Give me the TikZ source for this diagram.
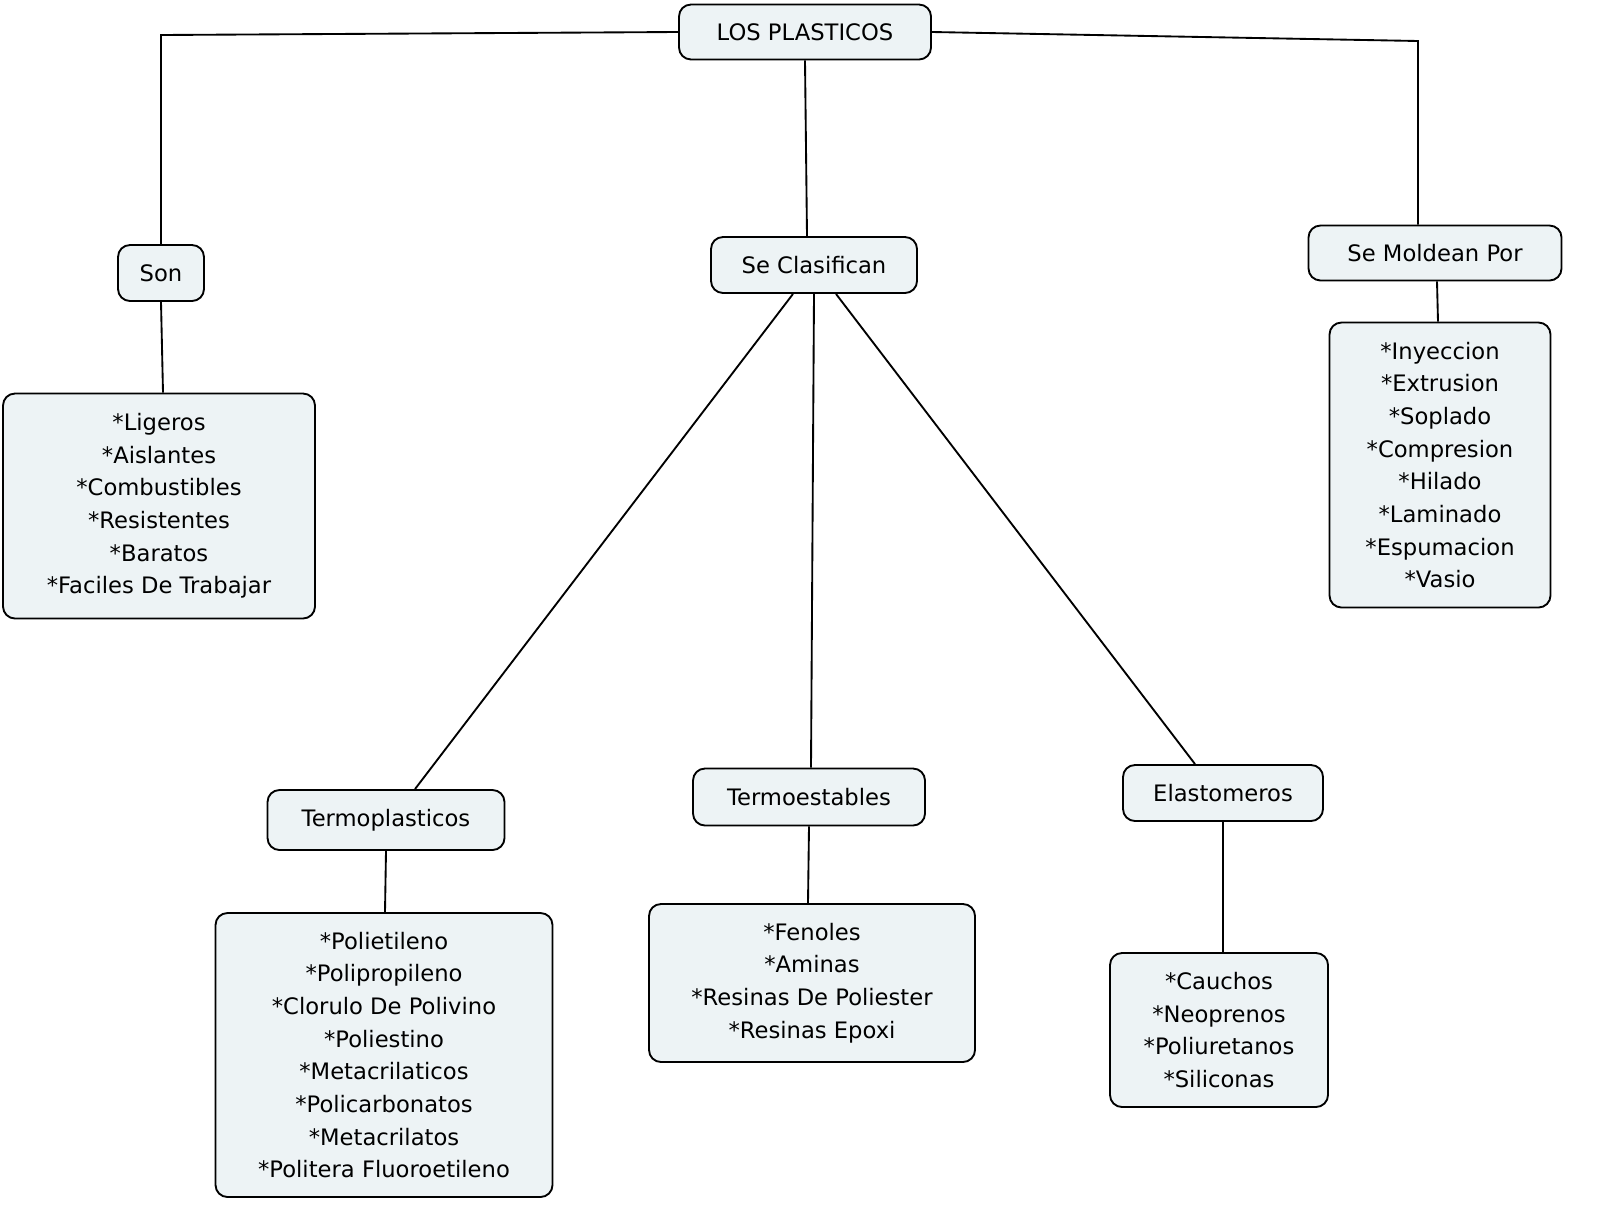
\documentclass[tikz,border=0pt]{standalone}
\usepackage{fontspec}
\setmainfont{DejaVu Sans}
\definecolor{boxfill}{HTML}{EDF3F5}
\begin{document}
\begin{tikzpicture}[x=0.75pt,y=-0.75pt,
  box/.style={draw=black,line width=1.4pt,fill=boxfill,rounded corners=9pt,inner sep=0pt,align=center,
    font=\fontsize{17}{24.5}\selectfont},
  con/.style={line width=1.4pt}]
\useasboundingbox (0,0) rectangle (1600,1225);
\node[box,minimum width=252*0.75pt,minimum height=55*0.75pt] (root) at (805,32) {LOS PLASTICOS};
\node[box,minimum width=86*0.75pt,minimum height=56*0.75pt] (son) at (161,273) {Son};
\node[box,minimum width=206*0.75pt,minimum height=56*0.75pt] (cla) at (814,265) {Se Clasifican};
\node[box,minimum width=253*0.75pt,minimum height=55*0.75pt] (mol) at (1435,253) {Se Moldean Por};
\node[box,minimum width=312*0.75pt,minimum height=225*0.75pt] (sonl) at (159,506) {*Ligeros\\*Aislantes\\*Combustibles\\*Resistentes\\*Baratos\\*Faciles De Trabajar};
\node[box,minimum width=221*0.75pt,minimum height=285*0.75pt] (moll) at (1440,465) {*Inyeccion\\*Extrusion\\*Soplado\\*Compresion\\*Hilado\\*Laminado\\*Espumacion\\*Vasio};
\node[box,minimum width=237*0.75pt,minimum height=60*0.75pt] (tp) at (386,820) {Termoplasticos};
\node[box,minimum width=232*0.75pt,minimum height=57*0.75pt] (te) at (809,797) {Termoestables};
\node[box,minimum width=200*0.75pt,minimum height=56*0.75pt] (el) at (1223,793) {Elastomeros};
\node[box,minimum width=337*0.75pt,minimum height=284*0.75pt] (tpl) at (384,1055) {*Polietileno\\*Polipropileno\\*Clorulo De Polivino\\*Poliestino\\*Metacrilaticos\\*Policarbonatos\\*Metacrilatos\\*Politera Fluoroetileno};
\node[box,minimum width=326*0.75pt,minimum height=158*0.75pt] (tel) at (812,983) {*Fenoles\\*Aminas\\*Resinas De Poliester\\*Resinas Epoxi};
\node[box,minimum width=218*0.75pt,minimum height=154*0.75pt] (ell) at (1219,1030) {*Cauchos\\*Neoprenos\\*Poliuretanos\\*Siliconas};
\coordinate (c1) at (161,35);
\coordinate (c2) at (1418,41);
\draw[con] (root.west) -- (c1) -- (son.north);
\draw[con] (root.east) -- (c2) -- (c2 |- mol.north);
\draw[con] (root.south) -- (cla.north -| 807,0);
\draw[con] (cla.south -| 793,0) -- (tp.north -| 415,0);
\draw[con] (cla.south) -- (te.north -| 811,0);
\draw[con] (cla.south -| 836,0) -- (el.north -| 1195,0);
\draw[con] (son.south) -- (sonl.north -| 163,0);
\draw[con] (mol.south -| 1437,0) -- (moll.north -| 1438,0);
\draw[con] (tp.south) -- (tpl.north -| 385,0);
\draw[con] (te.south) -- (tel.north -| 808,0);
\draw[con] (el.south) -- (ell.north -| 1223,0);
\end{tikzpicture}
\end{document}
